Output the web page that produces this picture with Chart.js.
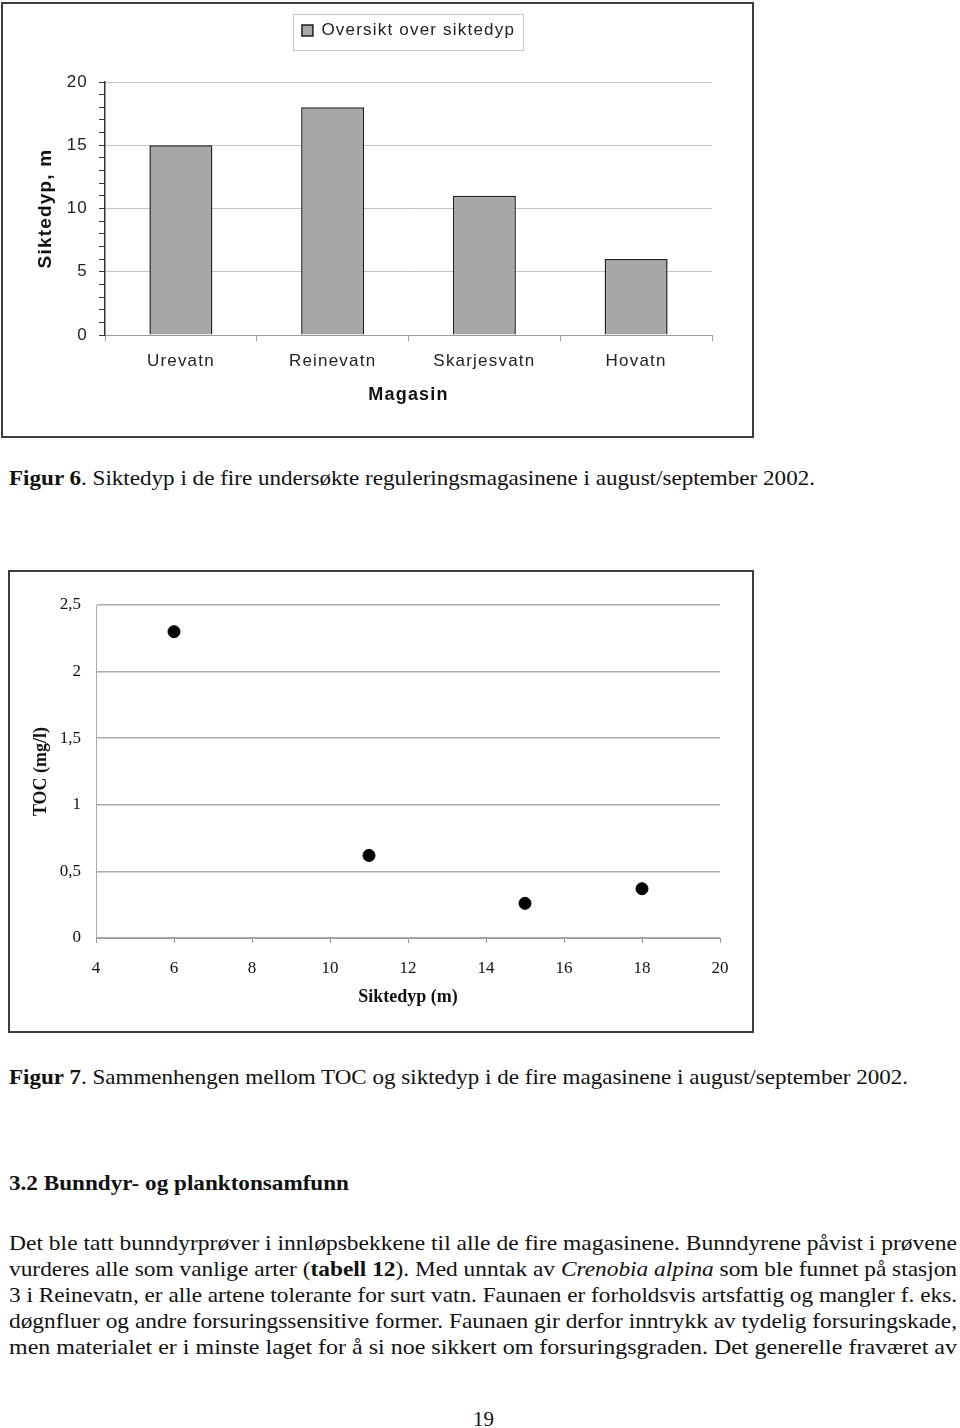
<!DOCTYPE html>
<html>
<head>
<meta charset="utf-8">
<script src="https://cdn.jsdelivr.net/npm/chart.js@4.4.1/dist/chart.umd.min.js"></script>
<style>
  body { margin: 0; background: #fff; width: 960px; height: 1428px; position: relative; overflow: hidden; }
  .box { position: absolute; border: 2px solid #3c3c3c; box-sizing: border-box; background: #fff; }
  .box canvas { display: block; }
  .ln { position: absolute; font-family: "Liberation Serif", "Times New Roman", serif; font-size: 22px; line-height: 24px; white-space: nowrap; color: #111; transform-origin: 0 0; }
</style>
</head>
<body>
<div class="box" style="left:1px;top:2px;width:753px;height:436px;"><canvas id="depthChart" width="749" height="432"></canvas></div>
<div class="ln" style="left:9px;top:466px;" data-w="806"><b>Figur 6</b>. Siktedyp i de fire undersøkte reguleringsmagasinene i august/september 2002.</div>

<div class="box" style="left:8px;top:570px;width:746px;height:463px;"><canvas id="tocChart" width="742" height="459"></canvas></div>
<div class="ln" style="left:9px;top:1065px;" data-w="899"><b>Figur 7</b>. Sammenhengen mellom TOC og siktedyp i de fire magasinene i august/september 2002.</div>

<div class="ln" style="left:9px;top:1171px;font-weight:bold;" data-w="340">3.2 Bunndyr- og planktonsamfunn</div>
<div class="ln" style="left:9px;top:1231px;" data-w="948">Det ble tatt bunndyrprøver i innløpsbekkene til alle de fire magasinene. Bunndyrene påvist i prøvene</div>
<div class="ln" style="left:9px;top:1257px;" data-w="948">vurderes alle som vanlige arter (<b>tabell 12</b>). Med unntak av <i>Crenobia alpina</i> som ble funnet på stasjon</div>
<div class="ln" style="left:9px;top:1283px;" data-w="948">3 i Reinevatn, er alle artene tolerante for surt vatn. Faunaen er forholdsvis artsfattig og mangler f. eks.</div>
<div class="ln" style="left:9px;top:1309px;" data-w="948">døgnfluer og andre forsuringssensitive former. Faunaen gir derfor inntrykk av tydelig forsuringskade,</div>
<div class="ln" style="left:9px;top:1335px;" data-w="948">men materialet er i minste laget for å si noe sikkert om forsuringsgraden. Det generelle fraværet av</div>
<div class="ln" style="left:473px;top:1407px;font-size:21px;">19</div>

<script>
// Figur 6 - siktedyp per magasin
const lakes = ['Urevatn', 'Reinevatn', 'Skarjesvatn', 'Hovatn'];
const depth = [15, 18, 11, 6];

// Figur 7 - TOC mot siktedyp
const tocDepth = [6, 11, 15, 18];
const tocValue = [2.3, 0.62, 0.26, 0.37];
const tocTickLabels = ['0', '0,5', '1', '1,5', '2', '2,5'];

const sans = '"Liberation Sans", Arial, sans-serif';
const serif = '"Liberation Serif", "Times New Roman", serif';

// Excel-aktig sperret skrift i figur 6
const wideText = {
    id: 'wideText',
    beforeLayout: function(chart) { chart.ctx.letterSpacing = '1.2px'; },
    beforeDraw: function(chart) { chart.ctx.letterSpacing = '1.2px'; }
};

// ramme rundt forklaringen
const legendFrame = {
    id: 'legendFrame',
    afterDraw: function(chart) {
        const hb = chart.legend.legendHitBoxes[0];
        const c = chart.ctx;
        c.save();
        c.strokeStyle = '#c8c8c8';
        c.lineWidth = 1;
        c.strokeRect(Math.round(hb.left - 9) + 0.5, Math.round(hb.top - 8) + 0.5, Math.round(hb.width + 17), Math.round(hb.height + 19));
        c.restore();
    }
};

new Chart(document.getElementById('depthChart'), {
    type: 'bar',
    data: {
        labels: lakes,
        datasets: [{
            label: 'Oversikt over siktedyp',
            data: depth,
            backgroundColor: '#a7a7a7',
            borderColor: '#1e1e1e',
            borderWidth: 1.5,
            categoryPercentage: 1,
            barPercentage: 0.415
        }]
    },
    options: {
        responsive: false,
        animation: false,
        layout: { padding: { top: 8, right: 40, bottom: 20, left: 0 } },
        plugins: {
            legend: {
                position: 'top',
                fullSize: false,
                labels: { boxWidth: 11, boxHeight: 11, padding: 10, color: '#222', font: { family: sans, size: 17 } }
            },
            title: { display: true, text: '', weight: 500, fullSize: false, padding: { top: 0, bottom: 21 }, font: { size: 10 } },
            tooltip: { enabled: false }
        },
        scales: {
            x: {
                grid: { offset: true, drawOnChartArea: false, tickLength: 6, color: '#9a9a9a' },
                border: { color: '#9a9a9a' },
                ticks: { color: '#222', padding: 10, font: { family: sans, size: 17 } },
                title: { display: true, text: 'Magasin', color: '#111', font: { family: sans, size: 18, weight: 'bold' }, padding: { top: 0, bottom: 10 } },
                afterFit: function(s) { s.height = 81; }
            },
            y: {
                min: 0,
                max: 20,
                ticks: {
                    stepSize: 1,
                    autoSkip: false,
                    padding: 11,
                    color: '#222',
                    font: { family: sans, size: 17 },
                    callback: function(v) { return v % 5 === 0 ? v : ''; }
                },
                grid: {
                    color: function(ctx) { return ctx.tick && ctx.tick.value % 5 === 0 ? '#c4c4c4' : 'rgba(0,0,0,0)'; },
                    tickColor: '#333',
                    tickLength: 6
                },
                border: { color: '#333', width: 1.5 },
                title: { display: true, text: 'Siktedyp, m', color: '#111', font: { family: sans, size: 19, weight: 'bold' }, padding: { top: 31, bottom: 0 } },
                afterFit: function(s) { s.width = 102; }
            }
        }
    },
    plugins: [wideText, legendFrame]
});

new Chart(document.getElementById('tocChart'), {
    type: 'scatter',
    data: {
        datasets: [{
            label: 'TOC',
            data: tocDepth.map(function(x, i) { return { x: x, y: tocValue[i] }; }),
            pointRadius: 6,
            backgroundColor: '#000',
            borderColor: '#000'
        }]
    },
    options: {
        responsive: false,
        animation: false,
        layout: { padding: { top: 33, right: 32, bottom: 20, left: 0 } },
        plugins: {
            legend: { display: false },
            tooltip: { enabled: false }
        },
        scales: {
            x: {
                type: 'linear',
                min: 4,
                max: 20,
                ticks: { stepSize: 2, padding: 15, color: '#111', font: { family: serif, size: 17 } },
                grid: { drawOnChartArea: false, tickLength: 5, color: '#999' },
                border: { color: '#999' },
                title: { display: true, text: 'Siktedyp (m)', color: '#111', font: { family: serif, size: 18, weight: 'bold' }, padding: { top: 0, bottom: 3 } },
                afterFit: function(s) { s.height = 73; }
            },
            y: {
                min: 0,
                max: 2.5,
                ticks: {
                    stepSize: 0.5,
                    padding: 15,
                    color: '#111',
                    font: { family: serif, size: 17 },
                    callback: function(v, i) { return tocTickLabels[i]; }
                },
                grid: { drawTicks: false, color: '#ababab', lineWidth: 1.5 },
                border: { color: '#ababab' },
                title: { display: true, text: 'TOC (mg/l)', color: '#111', font: { family: serif, size: 18, weight: 'bold' }, padding: { top: 21, bottom: 0 } },
                afterFit: function(s) { s.width = 86; }
            }
        }
    }
});

// tilpass tekstlinjene til bredden i originalen
document.querySelectorAll('.ln[data-w]').forEach(function(el) {
    const target = +el.dataset.w;
    const w = el.getBoundingClientRect().width;
    el.style.transform = 'scaleX(' + (target / w) + ')';
});
</script>
</body>
</html>
